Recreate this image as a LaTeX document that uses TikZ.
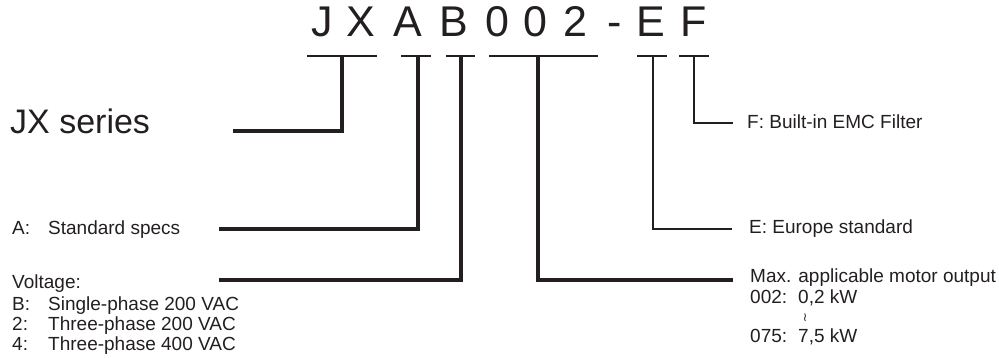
\documentclass[tikz,border=0pt]{standalone}
\usepackage{fontspec}
\setmainfont{Liberation Sans}
\newfontfamily\symfont{DejaVu Sans}
\definecolor{ink}{HTML}{231F20}
\begin{document}
\begin{tikzpicture}[x=1pt,y=-1pt,
  code/.style={font=\fontsize{43}{43}\selectfont, text=ink, anchor=base, inner sep=0pt},
  lbl/.style={font=\fontsize{19}{20}\selectfont, text=ink, anchor=base west, inner sep=0pt},
  bar/.style={draw=ink, line width=2.6pt},
  thickc/.style={draw=ink, line width=3.2pt},
  thinc/.style={draw=ink, line width=2pt}]
\useasboundingbox (0,0) rectangle (999,358);
% code letters
\node[code] (cJ) at (322,37) {J};
\node[code] (cX) at (361,37) {X};
\node[code] (cA) at (408,37) {A};
\node[code] (cB) at (454,37) {B};
\node[code] (c0a) at (497,37) {0};
\node[code] (c0b) at (535,37) {0};
\node[code] (c2) at (575,37) {2};
\node[code] (cd) at (615,37) {-};
\node[code] (cE) at (651,37) {E};
\node[code] (cF) at (694,37) {F};
% bars
\coordinate (jxL) at (307,56); \coordinate (jxR) at (377,56); \coordinate (jxM) at (342,56);
\coordinate (aL) at (401,56); \coordinate (aR) at (431,56); \coordinate (aM) at (418,56);
\coordinate (bL) at (446,56); \coordinate (bR) at (475,56); \coordinate (bM) at (461,56);
\coordinate (oL) at (489,56); \coordinate (oR) at (598,56); \coordinate (oM) at (538,56);
\coordinate (eL) at (637,56); \coordinate (eR) at (667,56); \coordinate (eM) at (653,56);
\coordinate (fL) at (679,56); \coordinate (fR) at (709,56); \coordinate (fM) at (694,56);
\draw[bar] (jxL) -- (jxR);
\draw[bar] (aL) -- (aR);
\draw[bar] (bL) -- (bR);
\draw[bar] (oL) -- (oR);
\draw[bar] (eL) -- (eR);
\draw[bar] (fL) -- (fR);
% line ends
\coordinate (jxE) at (233,131);
\coordinate (aE) at (219,229);
\coordinate (bE) at (219,280);
\coordinate (oE) at (733,280);
\coordinate (eE) at (732,229);
\coordinate (fE) at (733,123);
\draw[thickc] (jxM) |- (jxE);
\draw[thickc] (aM) |- (aE);
\draw[thickc] (bM) |- (bE);
\draw[thickc] (oM) |- (oE);
\draw[thinc] (eM) |- (eE);
\draw[thinc] (fM) |- (fE);
% labels
\node[lbl, font=\fontsize{34}{34}\selectfont] (jx) at (10,134) {JX series};
\node[lbl] (la) at (12,235) {\makebox[36pt][l]{A:}Standard specs};
\node[lbl] (lv) at (12,288) {Voltage:};
\node[lbl] (lv1) at (12,310) {\makebox[36pt][l]{B:}Single-phase 200 VAC};
\node[lbl] (lv2) at (12,330) {\makebox[36pt][l]{2:}Three-phase 200 VAC};
\node[lbl] (lv3) at (12,350) {\makebox[36pt][l]{4:}Three-phase 400 VAC};
\node[lbl] (lf) at (747,129) {F: Built-in EMC Filter};
\node[lbl] (le) at (749,234) {E: Europe standard};
\node[lbl] (lm) at (750,283) {Max. applicable motor output};
\node[lbl] (lm1) at (750,303) {\makebox[48pt][l]{002:}0,2 kW};
\node[font=\symfont\fontsize{12}{12}\selectfont, text=ink, inner sep=0pt] (lt) at (805,318) {≀};
\node[lbl] (lm2) at (750,342) {\makebox[48pt][l]{075:}7,5 kW};
\end{tikzpicture}
\end{document}
